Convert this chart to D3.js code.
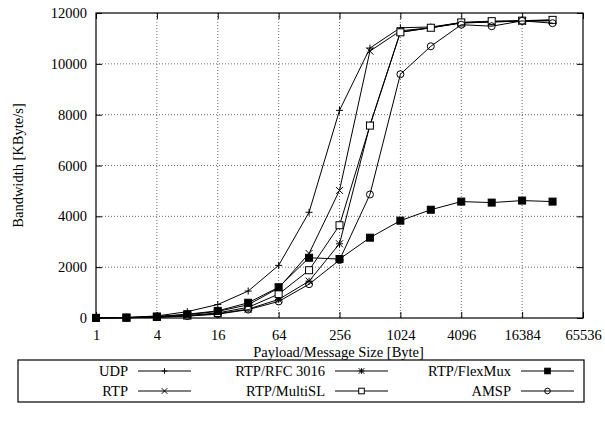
<!DOCTYPE html>
<html>
<head>
<meta charset="utf-8">
<script src="https://cdn.jsdelivr.net/npm/d3@7"></script>
<style>
  body { margin: 0; background: #fff; }
  svg text { font-family: "Liberation Serif", "DejaVu Serif", serif; font-size: 14.5px; fill: #000; }
</style>
</head>
<body>
<svg id="chart" width="605" height="422"></svg>
<script>
// payload sizes in bytes
var sizes = [1, 2, 4, 8, 16, 32, 64, 128, 256, 512, 1024, 2048, 4096, 8192, 16384, 32768]

// bandwidth in KByte/s
var udp     = [5, 20, 80, 250, 530, 1060, 2070, 4160, 8170, 10620, 11420, 11450, 11620, 11650, 11680, 11700]
var rtp     = [4, 15, 55, 130, 260, 520, 1180, 2540, 5020, 10500, 11300, 11420, 11600, 11650, 11680, 11700]
var rfc3016 = [3, 10, 35, 80, 170, 350, 730, 1450, 2920, 7590, 11250, 11420, 11620, 11660, 11690, 11720]
var multisl = [3, 12, 40, 100, 200, 420, 940, 1880, 3650, 7570, 11240, 11420, 11630, 11680, 11700, 11730]
var flexmux = [4, 18, 60, 150, 280, 600, 1210, 2370, 2320, 3160, 3830, 4260, 4580, 4540, 4620, 4580]
var amsp    = [3, 10, 30, 75, 150, 330, 650, 1330, 2280, 4860, 9590, 10690, 11540, 11480, 11690, 11600]

var xTicks = [1, 4, 16, 64, 256, 1024, 4096, 16384, 65536]
var yTicks = [0, 2000, 4000, 6000, 8000, 10000, 12000]

var seriesNames = ['UDP', 'RTP', 'RTP/RFC 3016', 'RTP/MultiSL', 'RTP/FlexMux', 'AMSP']
var seriesData = [udp, rtp, rfc3016, multisl, flexmux, amsp]
var seriesMarks = ['plus', 'cross', 'star', 'box', 'fbox', 'circle']

var plotL = 96, plotR = 583, plotT = 13, plotB = 318

var svg = d3.select('#chart')

var x = d3.scaleLog().base(2).domain([1, 65536]).range([plotL, plotR])
var y = d3.scaleLinear().domain([0, 12000]).range([plotB, plotT])

// grid
var grid = svg.append('g')
grid.selectAll('.vg').data(xTicks.slice(1, -1)).join('line')
    .attr('x1', d => x(d)).attr('x2', d => x(d))
    .attr('y1', plotT).attr('y2', plotB)
    .attr('stroke', '#444').attr('stroke-width', 0.8).attr('stroke-dasharray', '1,2')
grid.selectAll('.hg').data(yTicks.slice(1, -1)).join('line')
    .attr('x1', plotL).attr('x2', plotR)
    .attr('y1', d => y(d)).attr('y2', d => y(d))
    .attr('stroke', '#444').attr('stroke-width', 0.8).attr('stroke-dasharray', '1,2')

// axes (gnuplot style: inward ticks, mirrored)
var xAxis = d3.axisBottom(x).tickValues(xTicks).tickSize(-6).tickPadding(12).tickFormat(d3.format('d'))
var yAxis = d3.axisLeft(y).tickValues(yTicks).tickSize(-6).tickPadding(9).tickFormat(d3.format('d'))

svg.append('g').attr('transform', 'translate(0,' + plotB + ')').call(xAxis)
    .call(g => g.select('.domain').remove())
svg.append('g').attr('transform', 'translate(' + plotL + ',0)').call(yAxis)
    .call(g => g.select('.domain').remove())
svg.append('g').attr('transform', 'translate(0,' + plotT + ')')
    .call(d3.axisTop(x).tickValues(xTicks).tickSize(-6).tickFormat(''))
    .call(g => g.select('.domain').remove())
svg.append('g').attr('transform', 'translate(' + plotR + ',0)')
    .call(d3.axisRight(y).tickValues(yTicks).tickSize(-6).tickFormat(''))
    .call(g => g.select('.domain').remove())

svg.selectAll('.tick line').attr('stroke', '#000')
svg.selectAll('.tick text').style('font-size', '14.5px').attr('fill', '#000')
    .style('font-family', '"Liberation Serif", serif')

svg.append('rect')
    .attr('x', plotL).attr('y', plotT)
    .attr('width', plotR - plotL).attr('height', plotB - plotT)
    .attr('fill', 'none').attr('stroke', '#000').attr('stroke-width', 1.2)

// axis labels
svg.append('text')
    .attr('x', (plotL + plotR) / 2 - 1).attr('y', 357)
    .attr('text-anchor', 'middle')
    .text('Payload/Message Size [Byte]')
svg.append('text')
    .attr('transform', 'translate(23,' + ((plotT + plotB) / 2) + ') rotate(-90)')
    .attr('text-anchor', 'middle')
    .text('Bandwidth [KByte/s]')

// marker drawing
function drawMark(g, type, cx, cy, s) {
    if (type == 'plus' || type == 'star') {
        g.append('line').attr('x1', cx - s).attr('x2', cx + s).attr('y1', cy).attr('y2', cy).attr('stroke', '#000')
        g.append('line').attr('x1', cx).attr('x2', cx).attr('y1', cy - s).attr('y2', cy + s).attr('stroke', '#000')
    }
    if (type == 'cross' || type == 'star') {
        g.append('line').attr('x1', cx - s).attr('x2', cx + s).attr('y1', cy - s).attr('y2', cy + s).attr('stroke', '#000')
        g.append('line').attr('x1', cx - s).attr('x2', cx + s).attr('y1', cy + s).attr('y2', cy - s).attr('stroke', '#000')
    }
    if (type == 'box' || type == 'fbox') {
        g.append('rect').attr('x', cx - s).attr('y', cy - s).attr('width', 2 * s).attr('height', 2 * s)
            .attr('fill', type == 'fbox' ? '#000' : '#fff').attr('stroke', '#000')
    }
    if (type == 'circle') {
        g.append('circle').attr('cx', cx).attr('cy', cy).attr('r', s)
            .attr('fill', 'none').attr('stroke', '#000')
    }
}

var line = d3.line()
    .x(d => x(d[0]))
    .y(d => y(d[1]))

seriesData.forEach(function(vals, i) {
    var pts = sizes.map((s, j) => [s, vals[j]])
    var g = svg.append('g')
    g.append('path')
        .attr('d', line(pts))
        .attr('fill', 'none').attr('stroke', '#000').attr('stroke-width', 1)
    pts.forEach(function(p) {
        drawMark(g, seriesMarks[i], x(p[0]), y(p[1]), 3.5)
    })
})

// legend
var legend = svg.append('g')
legend.append('rect')
    .attr('x', 18).attr('y', 360).attr('width', 566).attr('height', 42)
    .attr('fill', 'none').attr('stroke', '#000').attr('stroke-width', 1.2)

var colEnd = [128, 325, 511]
seriesNames.forEach(function(name, i) {
    var col = Math.floor(i / 2), row = i % 2
    var ly = 371 + row * 20
    legend.append('text')
        .attr('x', colEnd[col]).attr('y', ly + 5)
        .attr('text-anchor', 'end')
        .text(name)
    var x0 = colEnd[col] + 10, x1 = x0 + 53
    legend.append('line')
        .attr('x1', x0).attr('x2', x1).attr('y1', ly).attr('y2', ly)
        .attr('stroke', '#000')
    drawMark(legend, seriesMarks[i], (x0 + x1) / 2, ly, 2.8)
})
</script>
</body>
</html>
